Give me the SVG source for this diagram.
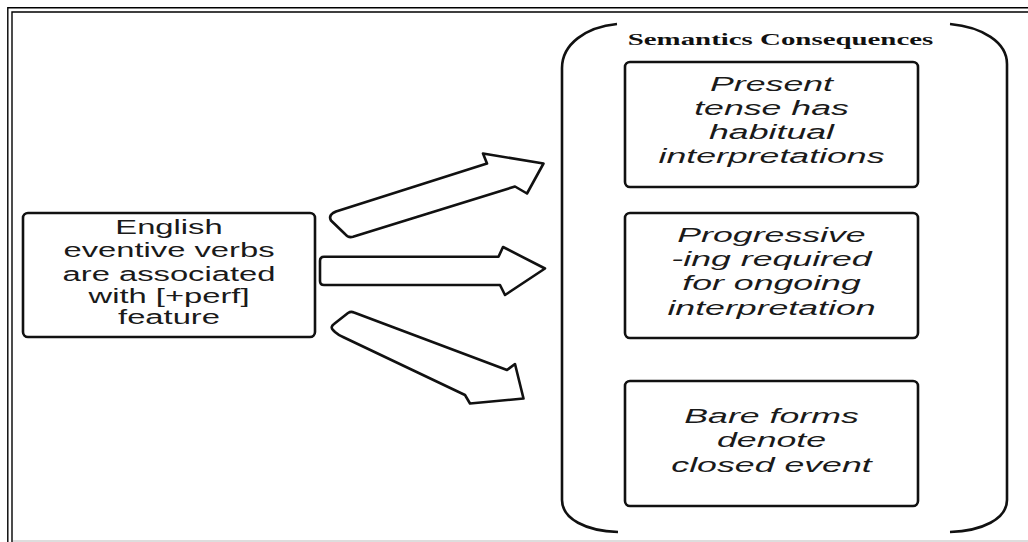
<svg xmlns="http://www.w3.org/2000/svg" width="1028" height="542" viewBox="0 0 1028 542">
<style>
  .frame { fill: none; stroke: #000; stroke-width: 1.4; }
  .box { fill: #fff; stroke: #111; stroke-width: 2.6; }
  .brk { fill: none; stroke: #111; stroke-width: 2.6; stroke-linecap: butt; }
  .arr { fill: #fff; stroke: #111; stroke-width: 2.6; stroke-linejoin: round; }
  .t { font-family: "Liberation Sans", Arial, sans-serif; font-size: 19.5px; fill: #1a1a1a; text-anchor: middle; }
  .ti { font-family: "Liberation Sans", Arial, sans-serif; font-size: 21px; font-style: italic; fill: #1a1a1a; text-anchor: middle; }
  .title { font-family: "Liberation Serif", "Times New Roman", serif; font-size: 17px; font-weight: bold; fill: #111; text-anchor: middle; }
</style>
<rect x="0" y="0" width="1028" height="542" fill="#fff"/>
<g id="frame">
  <path class="frame" d="M7.8,542 V7.8 H1028"/>
  <path class="frame" d="M12,542 V12 H1028"/>
  <line x1="13" y1="541" x2="1028" y2="541" stroke="#d2d2d2" stroke-width="1.6"/>
</g>
<g id="connectors">
  <path class="arr" d="M336,211.5 L487,163.5 L483,153.5 L543.5,163.5 L527,193.5 L515,186.5 L353,236.8 Q348,238 345,234 L331,220.5 Q328.5,216 333,213 Z"/>
  <path class="arr" d="M324,256.8 L498.5,256.8 L503,247 L545,268.5 L505,295 L500,285 L324,285 Q320,285 320,281 L320,261 Q320,256.8 324,256.8 Z"/>
  <path class="arr" d="M354,312.5 L507,370 L515,364 L523.5,398.5 L470,403.5 L465,395 L343,337 Q339,335.5 335,332 L333,330 Q330,327 334,324 L348,313 Q351,311 354,312.5 Z"/>
</g>
<g id="node-english">
  <rect class="box" x="23" y="213" width="292" height="124" rx="5"/>
  <g transform="translate(169,0) scale(1.68,1)">
    <text class="t" x="0" y="234">English</text>
    <text class="t" x="0" y="257">eventive verbs</text>
    <text class="t" x="0" y="281">are associated</text>
    <text class="t" x="0" y="303.5">with [+perf]</text>
    <text class="t" x="0" y="324.5">feature</text>
  </g>
</g>
<g id="node-consequences">
  <path class="brk" d="M617,24 C586,27 562,44 562,68 L562,500 C562,519 586,531 618,532"/>
  <path class="brk" d="M950,24 C982,27 1007,42 1007,64 L1007,500 C1007,519 982,531 950,532"/>
  <text class="title" transform="translate(780.5,0) scale(1.7,1)" x="0" y="45">Semantics Consequences</text>
</g>
<g id="node-present">
  <rect class="box" x="625" y="62" width="293" height="125" rx="5"/>
  <g transform="translate(771.5,0) scale(1.7,1)">
    <text class="ti" x="0" y="91">Present</text>
    <text class="ti" x="0" y="115">tense has</text>
    <text class="ti" x="0" y="139">habitual</text>
    <text class="ti" x="0" y="163">interpretations</text>
  </g>
</g>
<g id="node-progressive">
  <rect class="box" x="625" y="213" width="293" height="125" rx="5"/>
  <g transform="translate(771.5,0) scale(1.7,1)">
    <text class="ti" x="0" y="242">Progressive</text>
    <text class="ti" x="0" y="266.5">-ing required</text>
    <text class="ti" x="0" y="290.5">for ongoing</text>
    <text class="ti" x="0" y="315">interpretation</text>
  </g>
</g>
<g id="node-bare">
  <rect class="box" x="625" y="381" width="293" height="125" rx="5"/>
  <g transform="translate(771.5,0) scale(1.7,1)">
    <text class="ti" x="0" y="423">Bare forms</text>
    <text class="ti" x="0" y="447">denote</text>
    <text class="ti" x="0" y="472">closed event</text>
  </g>
</g>
</svg>
